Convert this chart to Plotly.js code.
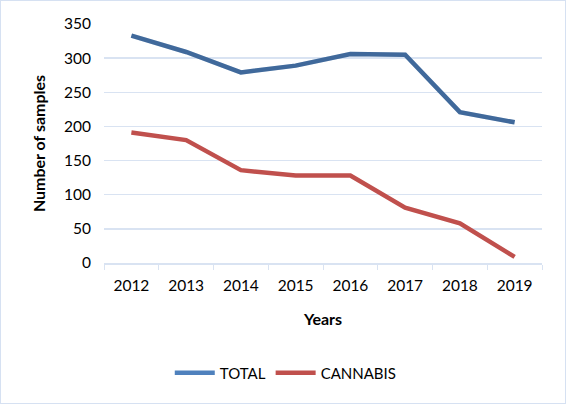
<!DOCTYPE html>
<html>
<head>
<meta charset="utf-8">
<script src="https://cdn.plot.ly/plotly-3.0.1.min.js"></script>
<style>
  html, body { margin: 0; padding: 0; background: #fff; }
  #chart { width: 564px; height: 402px; border: 1px solid #d6e1f2; }
</style>
</head>
<body>
<div id="chart"></div>
<script>
// chart data
const years = ['2012', '2013', '2014', '2015', '2016', '2017', '2018', '2019'];
const totalSamples = [333, 309, 279, 289, 306, 305, 221, 206];
const cannabisSamples = [191, 180, 136, 128, 128, 81, 58, 9];
const yTicks = [0, 50, 100, 150, 200, 250, 300, 350];

const font = 'Lato, "Open Sans", sans-serif';
const gridColor = '#d9e3f2';

const traces = [
  // soft shadow under the TOTAL line, drawn on a slightly shifted overlay axis
  {
    x: years, y: totalSamples, xaxis: 'x2', yaxis: 'y2',
    mode: 'lines', showlegend: false, hoverinfo: 'skip',
    line: { color: 'rgba(0,0,0,0.18)', width: 4.5 }
  },
  {
    x: years, y: totalSamples, name: 'TOTAL',
    mode: 'lines', line: { color: '#4f81bd', width: 4.5 }
  },
  {
    x: years, y: cannabisSamples, name: 'CANNABIS',
    mode: 'lines', line: { color: '#c0504d', width: 4.5 }
  }
];

const layout = {
  width: 564, height: 402,
  margin: { l: 103, r: 23, t: 23, b: 140 },
  paper_bgcolor: '#fff', plot_bgcolor: '#fff',
  font: { family: font, size: 15, color: '#000' },
  xaxis: {
    type: 'category', range: [-0.5, 7.5],
    tickson: 'boundaries', ticks: 'outside', ticklen: 5, tickcolor: gridColor,
    showline: true, linecolor: gridColor, linewidth: 1.5,
    showgrid: false, zeroline: false,
    ticklabelstandoff: 8,
    tickfont: { size: 15.5 },
    title: { text: '<b>Years</b>', font: { size: 16 }, standoff: 20 }
  },
  yaxis: {
    range: [0, 350], tickvals: yTicks,
    showgrid: true, gridcolor: gridColor, gridwidth: 1.5,
    zeroline: false, showline: false, ticks: '',
    ticklabelstandoff: 12,
    tickfont: { size: 15.5 },
    title: { text: '<b>Number of samples</b>', font: { size: 16 }, standoff: 14 }
  },
  xaxis2: {
    type: 'category', range: [-0.5, 7.5], overlaying: 'x',
    domain: [0.004, 1.004], visible: false
  },
  yaxis2: {
    range: [0, 350], overlaying: 'y', anchor: 'x2',
    domain: [-0.008, 0.992], visible: false
  },
  legend: {
    orientation: 'h', x: 0.415, xanchor: 'center', y: -0.46, yanchor: 'middle',
    font: { size: 15 }, itemwidth: 40
  }
};

Plotly.newPlot('chart', traces, layout, { displayModeBar: false, staticPlot: true });
</script>
</body>
</html>
